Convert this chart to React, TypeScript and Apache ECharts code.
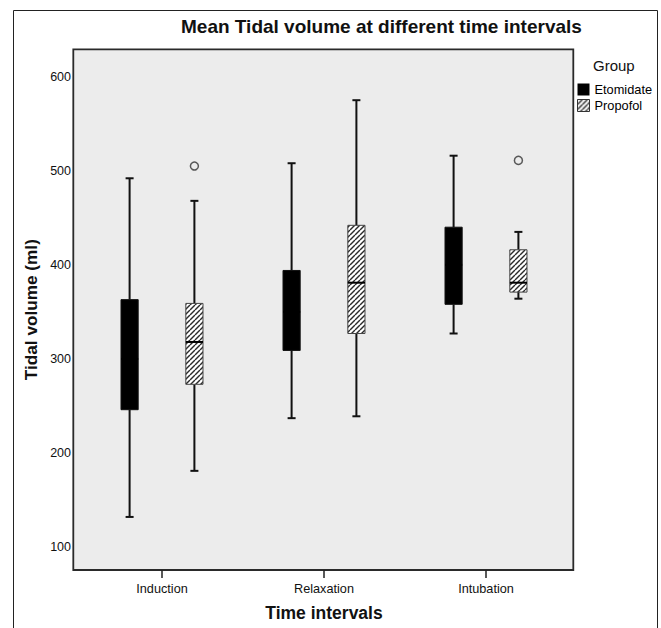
import React, { useEffect, useRef } from 'react';
import * as echarts from 'echarts';

const categories = ['Induction', 'Relaxation', 'Intubation'];
const groups = ['Etomidate', 'Propofol'];
// [min, Q1, median, Q3, max]
const etomidateStats = [
  [132, 246, 300, 363, 492],
  [237, 309, 350, 394, 508],
  [327, 358, 400, 440, 516],
];
const propofolStats = [
  [181, 273, 318, 359, 468],
  [239, 327, 381, 442, 575],
  [364, 371, 381, 416, 435],
];
// [category index, value]
const propofolOutliers = [
  [0, 505],
  [2, 511],
];
const yTickValues = [100, 200, 300, 400, 500, 600];

const FONT = '"Liberation Sans", Arial, sans-serif';

function makeHatch() {
  const s = 5;
  const c = document.createElement('canvas');
  c.width = s;
  c.height = s;
  const ctx = c.getContext('2d')!;
  ctx.fillStyle = '#ffffff';
  ctx.fillRect(0, 0, s, s);
  ctx.strokeStyle = '#2a2a2a';
  ctx.lineWidth = 1.4;
  for (const k of [-s, 0, s]) {
    ctx.beginPath();
    ctx.moveTo(k, s);
    ctx.lineTo(k + s, 0);
    ctx.stroke();
  }
  return { image: c, repeat: 'repeat', imageWidth: s, imageHeight: s } as any;
}

const makeRenderer = (shift: number, fill: any, stroke: string) => (params: any, api: any) => {
  const ci = api.value(0);
  const pMin = api.coord([ci, api.value(1)]);
  const pQ1 = api.coord([ci, api.value(2)]);
  const pMed = api.coord([ci, api.value(3)]);
  const pQ3 = api.coord([ci, api.value(4)]);
  const pMax = api.coord([ci, api.value(5)]);
  const band = api.size([1, 0])[0];
  const cx = pMin[0] + shift * band;
  const half = band * 0.053;
  const cap = 4;
  const line = (x1: number, y1: number, x2: number, y2: number, w: number, c = '#111') => ({
    type: 'line',
    shape: { x1, y1, x2, y2 },
    style: { stroke: c, lineWidth: w },
  });
  return {
    type: 'group',
    children: [
      line(cx, pMax[1], cx, pQ3[1], 2),
      line(cx, pQ1[1], cx, pMin[1], 2),
      line(cx - cap, pMax[1], cx + cap, pMax[1], 2),
      line(cx - cap, pMin[1], cx + cap, pMin[1], 2),
      {
        type: 'rect',
        shape: { x: cx - half, y: pQ3[1], width: half * 2, height: pQ1[1] - pQ3[1] },
        style: { fill, stroke, lineWidth: 1 },
      },
      line(cx - half, pMed[1], cx + half, pMed[1], 2, '#000'),
    ],
  };
};

export default function App() {
  const ref = useRef<HTMLDivElement>(null);
  useEffect(() => {
    if (!ref.current) return;
    const chart = echarts.init(ref.current, null, { renderer: 'svg' });
    const hatch = makeHatch();
    const toData = (stats: number[][]) => stats.map((s, i) => [i, ...s]);
    chart.setOption({
      animation: false,
      backgroundColor: '#ffffff',
      title: [
        {
          text: 'Mean Tidal volume at different time intervals',
          left: 181,
          top: 17,
          padding: 0,
          textStyle: { fontFamily: FONT, fontSize: 19, fontWeight: 'bold', color: '#111' },
        },
        {
          text: 'Group',
          left: 593,
          top: 58,
          padding: 0,
          textStyle: { fontFamily: FONT, fontSize: 15, fontWeight: 'normal', color: '#111' },
        },
      ],
      legend: {
        orient: 'vertical',
        left: 577,
        top: 83,
        padding: 0,
        itemWidth: 12,
        itemHeight: 12,
        itemGap: 3,
        selectedMode: false,
        textStyle: { fontFamily: FONT, fontSize: 12.8, color: '#000' },
        data: [
          { name: groups[0], icon: 'rect', itemStyle: { color: '#000', borderColor: '#000', borderWidth: 0 } },
          { name: groups[1], icon: 'rect', itemStyle: { color: hatch, borderColor: '#333', borderWidth: 1 } },
        ],
      },
      graphic: [
        {
          type: 'rect',
          z: -10,
          shape: { x: 13.5, y: 10.5, width: 644, height: 700 },
          style: { fill: 'none', stroke: '#222', lineWidth: 1 },
        },
        {
          type: 'rect',
          z: -5,
          shape: { x: 73.3, y: 49.3, width: 500, height: 520.7 },
          style: { fill: '#ececec', stroke: '#2a2a2a', lineWidth: 1.8 },
        },
      ],
      grid: { left: 81, right: 94, top: 49.3, bottom: 58, outerBoundsMode: 'none' },
      xAxis: {
        type: 'category',
        data: categories,
        boundaryGap: true,
        name: 'Time intervals',
        nameLocation: 'middle',
        nameGap: 34,
        nameTextStyle: { fontFamily: FONT, fontSize: 17.5, fontWeight: 'bold', color: '#111' },
        axisLine: { show: false },
        axisTick: { show: true, alignWithLabel: true, length: 8, lineStyle: { color: '#222', width: 1.5 } },
        axisLabel: { margin: 12, fontFamily: FONT, fontSize: 12.7, color: '#111' },
        splitLine: { show: false },
      },
      yAxis: {
        type: 'value',
        min: 75.6,
        max: 629.1,
        name: 'Tidal volume (ml)',
        nameLocation: 'middle',
        nameGap: 42,
        nameTextStyle: { fontFamily: FONT, fontSize: 17.2, fontWeight: 'bold', color: '#111' },
        axisLine: { show: false },
        axisTick: { show: false },
        splitLine: { show: false },
        axisLabel: {
          customValues: yTickValues,
          margin: 10,
          fontFamily: FONT,
          fontSize: 12.5,
          color: '#111',
        },
      },
      series: [
        {
          name: groups[0],
          type: 'custom',
          renderItem: makeRenderer(-0.2, '#000', '#111'),
          encode: { x: 0, y: [1, 2, 3, 4, 5] },
          itemStyle: { color: '#000' },
          data: toData(etomidateStats),
          z: 3,
        },
        {
          name: groups[1],
          type: 'custom',
          renderItem: makeRenderer(0.2, hatch, '#444'),
          encode: { x: 0, y: [1, 2, 3, 4, 5] },
          itemStyle: { color: hatch },
          data: toData(propofolStats),
          z: 3,
        },
        {
          name: 'Propofol outliers',
          type: 'scatter',
          data: propofolOutliers,
          symbol: 'circle',
          symbolSize: 8,
          symbolOffset: [32.4, 0],
          itemStyle: { color: '#ececec', borderColor: '#333', borderWidth: 1.5 },
          z: 4,
        },
      ],
    });
    return () => chart.dispose();
  }, []);
  return (
    <div
      ref={ref}
      style={{ position: 'absolute', left: 0, top: 0, width: 661, height: 628 }}
    />
  );
}
